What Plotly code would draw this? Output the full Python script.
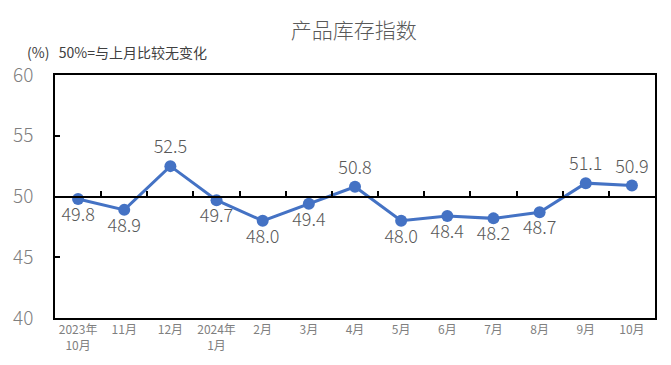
import plotly.graph_objects as go

categories = ["2023年<br>10月", "11月", "12月", "2024年<br>1月", "2月", "3月", "4月",
              "5月", "6月", "7月", "8月", "9月", "10月"]
values = [49.8, 48.9, 52.5, 49.7, 48.0, 49.4, 50.8, 48.0, 48.4, 48.2, 48.7, 51.1, 50.9]
label_pos = ["bottom center" if v < 50 else "top center" for v in values]
y_ticks = [40, 45, 50, 55, 60]

FONT = "Noto Sans CJK SC, Microsoft YaHei, sans-serif"
BLUE = "#4472C4"
GRAY = "#595959"
LGRAY = "#7F7F7F"

x_idx = list(range(len(categories)))

fig = go.Figure()
fig.add_trace(go.Scatter(
    x=x_idx, y=values, mode="lines+markers+text",
    line=dict(color=BLUE, width=3),
    marker=dict(color=BLUE, size=12),
    text=[f"{v:.1f}" for v in values],
    textposition=label_pos,
    textfont=dict(family=FONT, size=18, color=GRAY, weight=300),
    cliponaxis=False,
    showlegend=False,
))
# invisible trace to host the 50-baseline axis
fig.add_trace(go.Scatter(x=[x_idx[0]], y=[50], xaxis="x2", mode="markers",
                         marker=dict(opacity=0), showlegend=False, hoverinfo="skip"))

fig.update_layout(
    width=671, height=365,
    margin=dict(l=47, r=24, t=67, b=55, autoexpand=False),
    paper_bgcolor="white", plot_bgcolor="white",
    font=dict(family=FONT, color=GRAY),
    title=dict(text="产品库存指数", x=0.498,
               xref="paper", xanchor="center", y=1 - 23 / 365, yanchor="middle",
               automargin=False,
               font=dict(size=21, color=GRAY, family=FONT, weight=300)),
    xaxis=dict(
        range=[-0.5, len(categories) - 0.5],
        tickmode="array", tickvals=x_idx, ticktext=categories,
        ticks="", showgrid=False, zeroline=False, automargin=False,
        showline=True, linecolor="black", linewidth=1.5, mirror=True,
        tickfont=dict(size=12, color=LGRAY, family=FONT),
    ),
    xaxis2=dict(
        overlaying="x", anchor="free", position=0.5, side="bottom",
        range=[-0.5, len(categories) - 0.5], automargin=False,
        tickmode="array", tickvals=[i + 0.5 for i in x_idx[:-1]],
        ticks="inside", ticklen=5, tickwidth=1.5, tickcolor="black",
        showticklabels=False, showgrid=False, zeroline=False,
        showline=True, linecolor="black", linewidth=1.5,
    ),
    yaxis=dict(
        range=[40, 60], tickvals=y_ticks, automargin=False,
        ticks="inside", ticklen=5, tickwidth=1.5, tickcolor="black",
        showgrid=False, zeroline=False,
        showline=True, linecolor="black", linewidth=1.5, mirror=True,
        tickfont=dict(size=19, color=LGRAY, family=FONT, weight=300),
        ticklabelstandoff=16,
    ),
    annotations=[dict(
        text="(%)&nbsp;&nbsp;&nbsp;50%=与上月比较无变化", xref="paper", yref="paper",
        x=-0.05, y=1.095, xanchor="left", yanchor="middle", showarrow=False,
        font=dict(size=14, color="#404040", family=FONT),
    )],
)

fig.write_html("out.html")
